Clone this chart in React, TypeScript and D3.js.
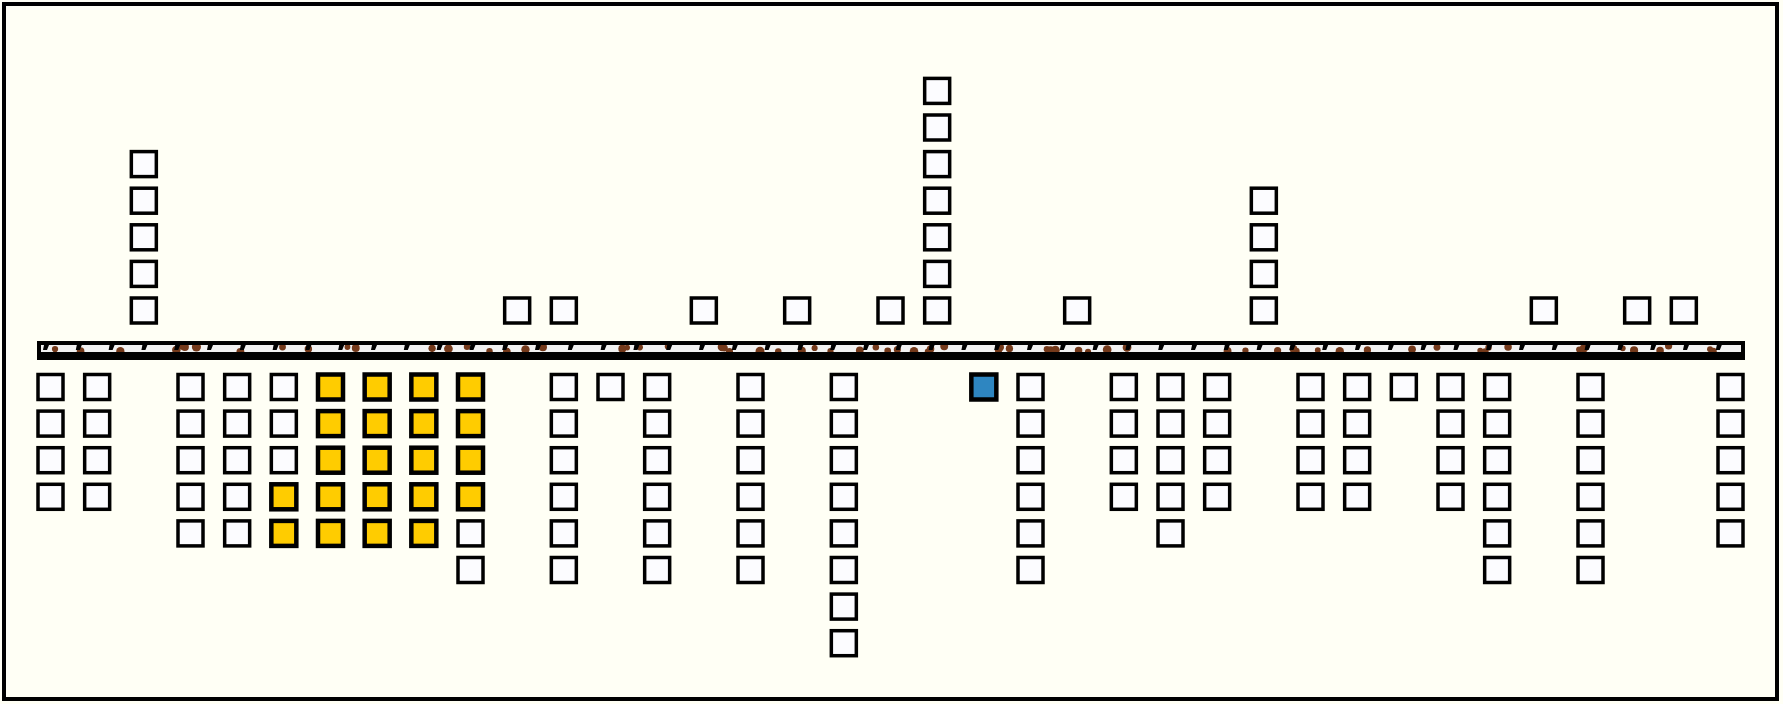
import React from "react";
import * as d3 from "d3";

// Slot index 0..36 along the axis
const slots: number[] = d3.range(37);
// boxes stacked above the bar, per slot
const topCounts: number[] = [0,0,5,0,0,0,0,0,0,0,1,1,0,0,1,0,1,0,1,7,0,0,1,0,0,0,4,0,0,0,0,0,1,0,1,1,0];
// boxes stacked below the bar, per slot
const bottomCounts: number[] = [4,4,0,5,5,5,5,5,5,6,0,6,1,6,0,6,0,8,0,0,1,6,0,4,5,4,0,4,4,1,4,6,0,6,0,0,5];
// highlighted boxes below the bar: [slot, row, kind]
const highlights: [number, number, string][] = [
  [5,3,"yellow"],[5,4,"yellow"],
  [6,0,"yellow"],[6,1,"yellow"],[6,2,"yellow"],[6,3,"yellow"],[6,4,"yellow"],
  [7,0,"yellow"],[7,1,"yellow"],[7,2,"yellow"],[7,3,"yellow"],[7,4,"yellow"],
  [8,0,"yellow"],[8,1,"yellow"],[8,2,"yellow"],[8,3,"yellow"],[8,4,"yellow"],
  [9,0,"yellow"],[9,1,"yellow"],[9,2,"yellow"],[9,3,"yellow"],
  [20,0,"blue"],
];

const W = 1783, H = 704;

export default function App() {
  const x = d3.scaleLinear().domain([0, 36]).range([50.5, 1730.5]);
  const yBottom = d3.scaleLinear().domain([0, 1]).range([387, 423.6]);
  const yTop = d3.scaleLinear().domain([0, 1]).range([310.5, 273.9]);
  const box = 25;
  const hl = new Map(highlights.map(([s, r, k]) => [s + "-" + r, k]));
  const fills: Record<string, string> = { yellow: "#FFCC00", blue: "#2E86C1" };

  const boxes: JSX.Element[] = [];
  slots.forEach((s) => {
    for (let r = 0; r < topCounts[s]; r++) {
      boxes.push(
        <rect key={"t" + s + "-" + r} x={x(s) - box / 2} y={yTop(r) - box / 2} width={box} height={box}
          fill="#FCFCFF" stroke="#000" strokeWidth={3.5} />
      );
    }
    for (let r = 0; r < bottomCounts[s]; r++) {
      const k = hl.get(s + "-" + r);
      boxes.push(
        <rect key={"b" + s + "-" + r} x={x(s) - box / 2} y={yBottom(r) - box / 2} width={box} height={box}
          fill={k ? fills[k] : "#FCFCFF"} stroke="#000" strokeWidth={k ? 4.5 : 3.5} />
      );
    }
  });

  // bar texture (decorative)
  const outX0 = 37, outX1 = 1745, outY0 = 341, outY1 = 360;
  const inX0 = 41, inX1 = 1741, inY0 = 345, inY1 = 352;
  const ticks = d3.range(inX0 + 3, inX1 - 4, 32.8);
  const hash = (n: number) => {
    const v = Math.sin(n * 12.9898 + 78.233) * 43758.5453;
    return v - Math.floor(v);
  };
  const dots = d3.range(75).map((i) => ({
    cx: inX0 + 6 + hash(i) * (inX1 - inX0 - 12),
    cy: inY0 + 1 + hash(i + 500) * 6,
    r: 2.8 + hash(i + 900) * 1.8,
  }));

  return (
    <div style={{ position: "absolute", left: 0, top: 0, width: W, height: H, overflow: "hidden" }}>
      <svg width={W} height={H} style={{ display: "block" }}>
        <rect x={0} y={0} width={W} height={H} fill="#FFFFF5" />
        <rect x={4} y={4} width={1773} height={695} fill="#FFFFF5" stroke="#000" strokeWidth={4} />
        <defs>
          <clipPath id="barclip">
            <rect x={inX0} y={inY0} width={inX1 - inX0} height={inY1 - inY0} />
          </clipPath>
        </defs>
        <rect x={outX0} y={outY0} width={outX1 - outX0} height={outY1 - outY0} fill="#000" />
        <rect x={inX0} y={inY0} width={inX1 - inX0} height={inY1 - inY0} fill="#F1F1F1" />
        <g clipPath="url(#barclip)">
          {dots.map((d, i) => (
            <circle key={i} cx={d.cx} cy={d.cy} r={d.r} fill="#74391A" />
          ))}
          {ticks.map((t, i) => (
            <path key={i} d={`M${t},${inY0} L${t + 5},${inY0} L${t + 3},${inY0 + 5} L${t - 1},${inY0 + 5} Z`} fill="#000" />
          ))}
        </g>
        {boxes}
      </svg>
    </div>
  );
}
